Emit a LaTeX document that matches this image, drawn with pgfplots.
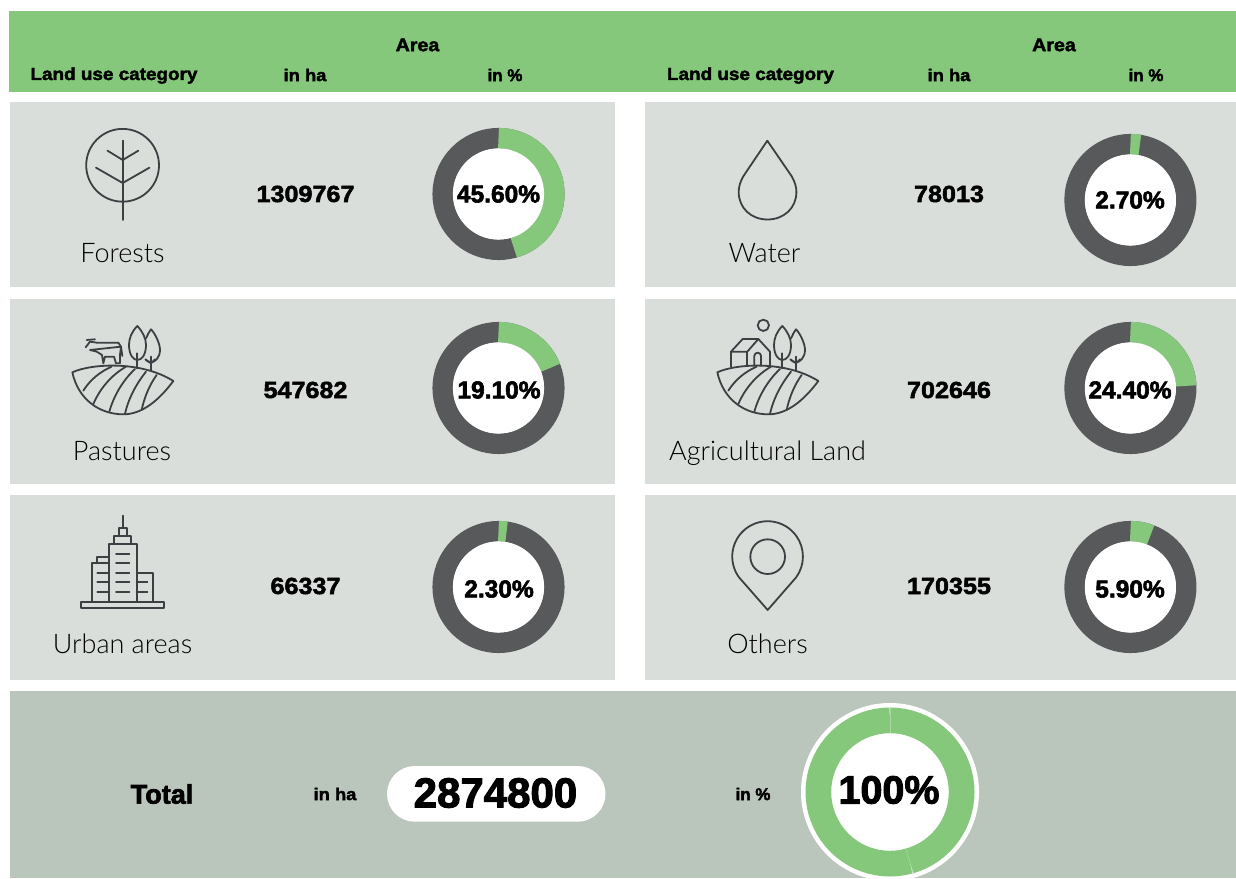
\documentclass[border=0pt]{standalone}
\usepackage{pgfplots}
\pgfplotsset{compat=1.18}
\usepgfplotslibrary{polar}
\usepackage{pgfplotstable}
\usepackage{fontspec}
\newfontfamily\blk[BoldFeatures={FakeBold=2.4}]{Liberation Sans}
\newfontfamily\blkw[BoldFeatures={FakeBold=2.2},FakeStretch=1.08]{Liberation Sans}
\newfontfamily\lite{Lato Light}
\newcommand\B[1]{\fontsize{#1}{#1}\selectfont\blk\bfseries}
\newcommand\W[1]{\fontsize{#1}{#1}\selectfont\blkw\bfseries}
\newcommand\Li{\fontsize{27}{27}\selectfont\lite}
\definecolor{grn}{RGB}{133,200,123}
\definecolor{pan}{RGB}{217,222,218}
\definecolor{tot}{RGB}{186,198,188}
\definecolor{dgr}{RGB}{88,89,91}
\definecolor{ico}{RGB}{60,64,67}
\pgfplotstableread{
ang r
0 55.8
5 55.8
10 55.8
15 55.8
20 55.8
25 55.8
30 55.8
35 55.8
40 55.8
45 55.8
50 55.8
55 55.8
60 55.8
65 55.8
70 55.8
75 55.8
80 55.8
85 55.8
90 55.8
95 55.8
100 55.8
105 55.8
110 55.8
115 55.8
120 55.8
125 55.8
130 55.8
135 55.8
140 55.8
145 55.8
150 55.8
155 55.8
160 55.8
165 55.8
170 55.8
175 55.8
180 55.8
185 55.8
190 55.8
195 55.8
200 55.8
205 55.8
210 55.8
215 55.8
220 55.8
225 55.8
230 55.8
235 55.8
240 55.8
245 55.8
250 55.8
255 55.8
260 55.8
265 55.8
270 55.8
275 55.8
280 55.8
285 55.8
290 55.8
295 55.8
300 55.8
305 55.8
310 55.8
315 55.8
320 55.8
325 55.8
330 55.8
335 55.8
340 55.8
345 55.8
350 55.8
355 55.8
360 55.8
365 55.8
370 55.8
}\ringtab
\pgfplotsset{
  don/.style={hide axis,scale only axis,clip=false,anchor=center,xmin=0,xmax=360,
    ymin=0,ymax=66,width=132pt,height=132pt},
  gray ring/.style={dgr,line width=20.5pt,line cap=butt,line join=miter,no markers},
  green arc/.style={grn,line width=20.6pt,line cap=butt,line join=miter,no markers},
}
\newcommand\hill{%
  \draw (97,217) .. controls (150,192) and (300,180) .. (400,243)
        .. controls (350,310) and (300,343) .. (250,343)
        .. controls (180,343) and (115,300) .. (97,217) -- cycle;
  \draw (215,200) .. controls (180,215) and (150,240) .. (130,272);
  \draw (258,200) .. controls (215,225) and (180,265) .. (160,312);
  \draw (285,207) .. controls (250,240) and (222,285) .. (208,335);
  \draw (318,215) .. controls (290,250) and (265,295) .. (255,342);
  \draw (350,225) .. controls (328,255) and (312,295) .. (305,330);
  \draw (292,78) .. controls (275,95) and (267,115) .. (267,135)
        .. controls (267,165) and (280,180) .. (292,180)
        .. controls (305,180) and (318,165) .. (318,135)
        .. controls (318,115) and (308,95) .. (292,78) -- cycle;
  \draw (292,160) -- (292,205);
  \draw (318,115) .. controls (322,105) and (328,95) .. (333,88)
        .. controls (345,100) and (360,130) .. (360,150)
        .. controls (360,172) and (345,187) .. (333,187)
        .. controls (328,187) and (322,184) .. (316,178);
  \draw (333,170) -- (333,212);
  \draw (318,180) -- (333,190) -- (345,178);
}
\begin{document}
\begin{tikzpicture}
\useasboundingbox (0,0) rectangle (1236pt,878pt);
\clip (0,0) rectangle (1236pt,878pt);
\begin{scope}[x=1pt,y=-1pt,yshift=878pt]
  \fill[grn] (9,11) rectangle (1236,92);
  \foreach \x/\w in {9.5/615,645/1236}
    \foreach \y/\z in {102/287,299/484,495/680}
      \fill[pan] (\x,\y) rectangle (\w,\z);
  \fill[tot] (10,691) rectangle (1236,878);
  \fill[white,rounded corners=27.8pt] (387,766) rectangle (605.5,821.7);
  \fill[white] (890,792) circle[radius=89];
  % icons
  \begin{scope}[draw=ico,line width=1.8pt,line join=round,line cap=round]
    % tree
    \draw (122.6,165.3) circle[radius=36.4];
    \draw (122.7,140.7) -- (122.7,220);
    \draw (107.5,150.7) -- (122.7,160) -- (138.3,150.7);
    \draw (96,167.7) -- (122.7,183) -- (149.4,167.7);
    % drop
    \draw (767.3,140.7) -- (743.5,176) .. controls (740,182) and (738.7,187) .. (738.7,192)
      .. controls (738.7,208) and (751,219.5) .. (767.5,219.5)
      .. controls (784,219.5) and (796.4,208) .. (796.4,192)
      .. controls (796.4,187) and (795,182) .. (791.5,176) -- cycle;
    % pastures
    \begin{scope}[shift={(40,300)},x=.33333pt,y=-.33333pt]
      \hill
      \draw (137,142) -- (150,125) -- (170,128) -- (235,128) -- (243,140) -- (247,168);
      \draw (243,140) -- (240,165) -- (240,190) -- (228,190) -- (222,170) -- (195,170)
        -- (190,190) -- (186,165) -- (170,155) -- (150,150) -- cycle;
      \draw (140,120) -- (165,118);
    \end{scope}
    % agricultural
    \begin{scope}[shift={(685,300)},x=.33333pt,y=-.33333pt]
      \hill
    \end{scope}
    \begin{scope}[shift={(660,300)},x=.33333pt,y=-.33333pt]
      \draw (310,76) circle[radius=17];
      \draw (213,200) -- (213,155) -- (248,117) -- (295,117) -- (330,155) -- (330,200);
      \draw (213,155) -- (262,155) -- (295,117);
      \draw (262,155) -- (262,197);
      \draw (283,197) -- (283,168) arc[start angle=180,end angle=360,radius=10] -- (303,197);
    \end{scope}
    % urban
    \begin{scope}[shift={(40,500)},x=.33333pt,y=-.33333pt]
      \draw (124,305) rectangle (372,323);
      \draw (206,305) -- (206,131) -- (290,131) -- (290,305);
      \draw (222,131) -- (222,107) -- (274,107) -- (274,131);
      \draw (236,107) -- (236,83) -- (260,83) -- (260,107);
      \draw (248,83) -- (248,47);
      \draw (155,305) -- (155,190) -- (206,190);
      \draw (172,190) -- (172,170) -- (206,170);
      \draw (290,218) -- (340,218) -- (340,305);
      \foreach \y in {161,189,218,247,276} \draw (228,\y) -- (268,\y);
      \foreach \y in {218,247,276} \draw (172,\y) -- (206,\y);
      \foreach \y in {247,276} \draw (290,\y) -- (322,\y);
    \end{scope}
    % pin
    \begin{scope}[shift={(700,500)},x=.33333pt,y=-.33333pt]
      \draw (203,330) -- (117,232) arc[start angle=144,end angle=396,radius=106] -- cycle;
      \draw (203,170) circle[radius=52];
    \end{scope}
  \end{scope}
\end{scope}

\begin{polaraxis}[don,at={(498.5pt,684pt)}]
  \addplot[gray ring] table[x=ang,y=r] {\ringtab};
  \addplot[green arc] coordinates {(90,55.8)(85,55.8)(80,55.8)(75,55.8)(70,55.8)(65,55.8)(60,55.8)(55,55.8)(50,55.8)(45,55.8)(40,55.8)(35,55.8)(30,55.8)(25,55.8)(20,55.8)(15,55.8)(10,55.8)(5,55.8)(0,55.8)(-5,55.8)(-10,55.8)(-15,55.8)(-20,55.8)(-25,55.8)(-30,55.8)(-35,55.8)(-40,55.8)(-45,55.8)(-50,55.8)(-55,55.8)(-60,55.8)(-65,55.8)(-70,55.8)(-74.16,55.8)};
\end{polaraxis}
\begin{polaraxis}[don,at={(1130.4pt,678pt)}]
  \addplot[gray ring] table[x=ang,y=r] {\ringtab};
  \addplot[green arc] coordinates {(90,55.8)(85,55.8)(80.28,55.8)};
\end{polaraxis}
\begin{polaraxis}[don,at={(498.5pt,490pt)}]
  \addplot[gray ring] table[x=ang,y=r] {\ringtab};
  \addplot[green arc] coordinates {(90,55.8)(85,55.8)(80,55.8)(75,55.8)(70,55.8)(65,55.8)(60,55.8)(55,55.8)(50,55.8)(45,55.8)(40,55.8)(35,55.8)(30,55.8)(25,55.8)(21.24,55.8)};
\end{polaraxis}
\begin{polaraxis}[don,at={(1130.4pt,490pt)}]
  \addplot[gray ring] table[x=ang,y=r] {\ringtab};
  \addplot[green arc] coordinates {(90,55.8)(85,55.8)(80,55.8)(75,55.8)(70,55.8)(65,55.8)(60,55.8)(55,55.8)(50,55.8)(45,55.8)(40,55.8)(35,55.8)(30,55.8)(25,55.8)(20,55.8)(15,55.8)(10,55.8)(5,55.8)(2.16,55.8)};
\end{polaraxis}
\begin{polaraxis}[don,at={(498.5pt,291pt)}]
  \addplot[gray ring] table[x=ang,y=r] {\ringtab};
  \addplot[green arc] coordinates {(90,55.8)(85,55.8)(81.72,55.8)};
\end{polaraxis}
\begin{polaraxis}[don,at={(1130.4pt,291pt)}]
  \addplot[gray ring] table[x=ang,y=r] {\ringtab};
  \addplot[green arc] coordinates {(90,55.8)(85,55.8)(80,55.8)(75,55.8)(70,55.8)(68.76,55.8)};
\end{polaraxis}
\begin{polaraxis}[don,at={(890pt,86pt)},ymax=89,width=178pt,height=178pt]
  \addplot[grn,line width=25.7pt,line cap=butt,line join=miter,no markers] coordinates {(90,71.65)(85,71.65)(80,71.65)(75,71.65)(70,71.65)(65,71.65)(60,71.65)(55,71.65)(50,71.65)(45,71.65)(40,71.65)(35,71.65)(30,71.65)(25,71.65)(20,71.65)(15,71.65)(10,71.65)(5,71.65)(0,71.65)(-5,71.65)(-10,71.65)(-15,71.65)(-20,71.65)(-25,71.65)(-30,71.65)(-35,71.65)(-40,71.65)(-45,71.65)(-50,71.65)(-55,71.65)(-60,71.65)(-65,71.65)(-70,71.65)(-74.16,71.65)};
  \addplot[grn,line width=25.7pt,line cap=butt,line join=miter,no markers] coordinates {(-74.16,71.65)(-80,71.65)(-85,71.65)(-90,71.65)(-95,71.65)(-100,71.65)(-105,71.65)(-110,71.65)(-115,71.65)(-120,71.65)(-125,71.65)(-130,71.65)(-135,71.65)(-140,71.65)(-145,71.65)(-150,71.65)(-155,71.65)(-160,71.65)(-165,71.65)(-170,71.65)(-175,71.65)(-180,71.65)(-185,71.65)(-190,71.65)(-195,71.65)(-200,71.65)(-205,71.65)(-210,71.65)(-215,71.65)(-220,71.65)(-225,71.65)(-230,71.65)(-235,71.65)(-240,71.65)(-245,71.65)(-250,71.65)(-255,71.65)(-260,71.65)(-265,71.65)(-270,71.65)};
  \addplot[white!30!grn,line width=.5pt,no markers] coordinates {(90,58.8)(90,84.5)};
  \addplot[white!30!grn,line width=.5pt,no markers] coordinates {(-74.16,58.8)(-74.16,84.5)};
\end{polaraxis}

\begin{scope}[x=1pt,y=-1pt,yshift=878pt,every node/.style={inner sep=0pt,anchor=center,black}]
  \foreach \x/\y in {498.5/194,1130.4/200,498.5/388,1130.4/388,498.5/587,1130.4/587}
    \fill[white] (\x,\y) circle[radius=45.6];
  \node at (417.5,45) {\W{18.2}Area};
  \node at (1054,45) {\W{18.2}Area};
  \node[anchor=base] at (114,80) {\W{17.5}Land use category};
  \node[anchor=base] at (750.5,80) {\W{17.5}Land use category};
  \node at (305,75) {\W{17}in ha};
  \node at (949,75) {\W{17}in ha};
  \node at (505,75) {\B{17}in \%};
  \node at (1146,75) {\B{17}in \%};
  \node at (305.5,194) {\W{23.3}1309767};
  \node at (949,194) {\W{23.3}78013};
  \node at (305.5,390) {\W{23.3}547682};
  \node at (949,390) {\W{23.3}702646};
  \node at (305.5,586) {\W{23.3}66337};
  \node at (949,586) {\W{23.3}170355};
  \node at (498.5,194) {\B{24.5}45.60\%};
  \node at (1130,200) {\B{24.5}2.70\%};
  \node at (499,390) {\B{24.5}19.10\%};
  \node at (1130,390) {\B{24.5}24.40\%};
  \node at (499,589) {\B{24.5}2.30\%};
  \node at (1130,589) {\B{24.5}5.90\%};
  \node[anchor=base] at (122.5,262.7) {\Li Forests};
  \node[anchor=base] at (122,460.3) {\Li Pastures};
  \node[anchor=base] at (764.5,262.7) {\Li Water};
  \node[anchor=base] at (767.5,460.3) {\Li Agricultural Land};
  \node[anchor=base] at (122.5,653.7) {\Li Urban areas};
  \node[anchor=base] at (767.5,653.7) {\Li Others};
  \node at (162,794) {\B{27}Total};
  \node at (335,794) {\W{17}in ha};
  \node at (495.5,793) {\B{42}2874800};
  \node at (753,794) {\B{17}in \%};
  \node at (889,790) {\B{39.5}100\%};
\end{scope}
\end{tikzpicture}
\end{document}
